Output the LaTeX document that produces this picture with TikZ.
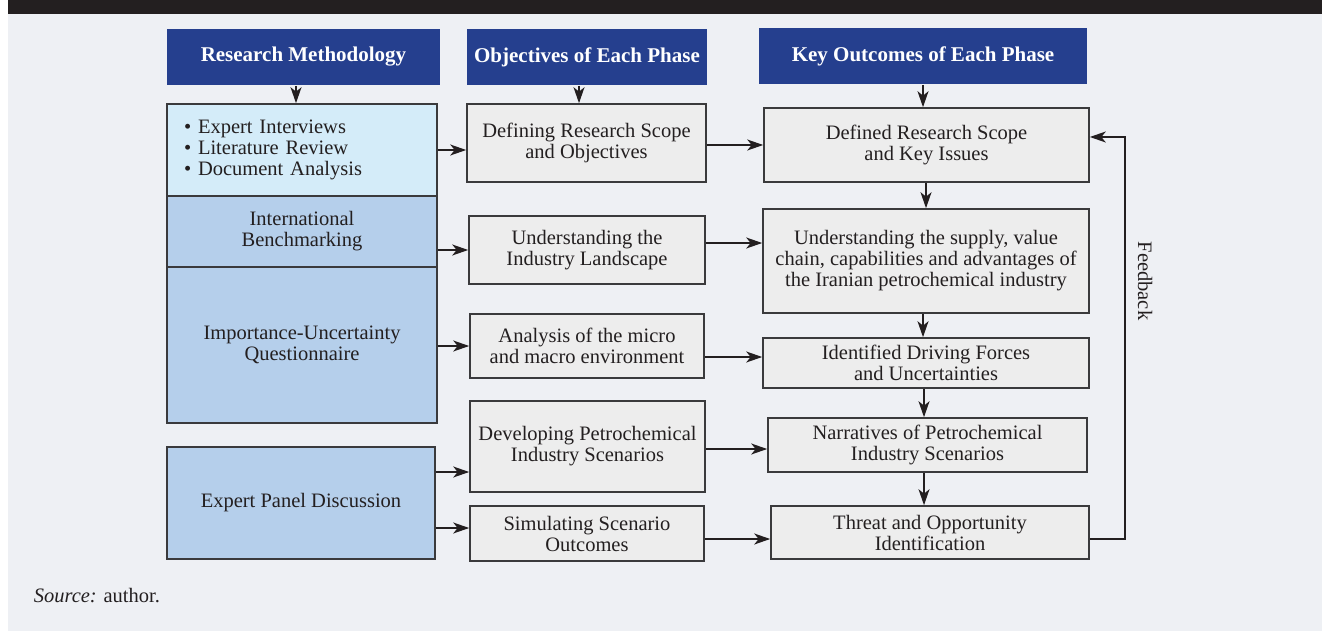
\documentclass[tikz,border=0pt]{standalone}
\usepackage{fontspec}
\setmainfont{Liberation Serif}
\usetikzlibrary{arrows.meta,positioning,calc}

\definecolor{barblack}{HTML}{231F20}
\definecolor{pagegrey}{HTML}{EEF0F4}
\definecolor{headblue}{HTML}{253F8E}
\definecolor{paleblue}{HTML}{D4ECF9}
\definecolor{midblue}{HTML}{B5CFEB}
\definecolor{boxgrey}{HTML}{EDEDED}
\definecolor{edgegrey}{HTML}{3A3A3C}

\begin{document}
\begin{tikzpicture}[x=1pt,y=-1pt,->,>={Stealth[length=16pt,width=11pt,inset=4.5pt]},
  line width=1.6pt,color=barblack,
  every node/.style={align=center,inner sep=2pt,font=\fontsize{20.5}{21}\selectfont},
  head/.style={fill=headblue,text=white,minimum height=56pt,font=\fontsize{21}{22}\selectfont\bfseries},
  method/.style={draw=edgegrey,fill=midblue,minimum width=270pt},
  phase/.style={draw=edgegrey,fill=boxgrey}]

  \useasboundingbox (0,0) rectangle (1322,631);
  \fill[white,-] (0,0) rectangle (1322,631);
  \fill[pagegrey,-] (8,14) rectangle (1322,631);
  \fill[barblack,-] (8,0) rectangle (1322,14);

  % column heads
  \node[head,minimum width=273pt] (h1) at (303.5,57) {Research Methodology};
  \node[head,minimum width=240pt] (h2) at (587,57) {Objectives of Each Phase};
  \node[head,minimum width=328pt] (h3) at (923,56) {Key Outcomes of Each Phase};

  % methods
  \node[method,fill=paleblue,minimum height=92pt,text width=236pt,inner xsep=17pt,align=left]
    (m1) at (302,150) {• Expert Interviews\\• Literature Review\\• Document Analysis};
  \node[method,minimum height=71pt] (m2) at (302,231.5) {International\\Benchmarking};
  \node[method,minimum height=156pt] (m3) at (302,345) {Importance-Uncertainty\\Questionnaire};
  \node[method,minimum width=268pt,minimum height=112pt] (m4) at (301,503) {Expert Panel Discussion};

  % objectives
  \node[phase,minimum width=239pt,minimum height=78pt] (p1) at (586.5,143) {Defining Research Scope\\and Objectives};
  \node[phase,minimum width=236pt,minimum height=68pt] (p2) at (587,250) {Understanding the\\Industry Landscape};
  \node[phase,minimum width=234pt,minimum height=64pt] (p3) at (587,346) {Analysis of the micro\\and macro environment};
  \node[phase,minimum width=235pt,minimum height=91pt] (p4) at (587.5,446.5) {Developing Petrochemical\\Industry Scenarios};
  \node[phase,minimum width=234pt,minimum height=55pt] (p5) at (587,533.5) {Simulating Scenario\\Outcomes};

  % outcomes
  \node[phase,minimum width=325pt,minimum height=74pt] (k1) at (926.5,145) {Defined Research Scope\\and Key Issues};
  \node[phase,minimum width=326pt,minimum height=104pt] (k2) at (926,261) {Understanding the supply, value\\chain, capabilities and advantages of\\the Iranian petrochemical industry};
  \node[phase,minimum width=326pt,minimum height=50pt] (k3) at (926,363) {Identified Driving Forces\\and Uncertainties};
  \node[phase,minimum width=319pt,minimum height=54pt] (k4) at (927.5,445) {Narratives of Petrochemical\\Industry Scenarios};
  \node[phase,minimum width=318pt,minimum height=53pt] (k5) at (930,532.5) {Threat and Opportunity\\Identification};

  \node[rotate=-90] (fb) at (1145,281) {Feedback};
  \node[anchor=base west,inner sep=0pt] (src) at (33,602) {\textit{Source:} author.};

  % heads to first row
  \coordinate (t1) at ([xshift=-7.5pt]h1.south);
  \coordinate (t2) at ([xshift=-8pt]h2.south);
  \draw (t1) -- (t1 |- m1.north);
  \draw (t2) -- (t2 |- p1.north);
  \draw (h3.south) -- (h3.south |- k1.north);

  % methods to objectives
  \coordinate (a4) at ([yshift=-25.5pt]p4.west);
  \coordinate (a5) at ([yshift=5.5pt]p5.west);
  \draw (m1.east) -- (m1.east -| p1.west);
  \draw (m2.east |- p2.west) -- (p2.west);
  \draw (m3.east |- p3.west) -- (p3.west);
  \draw (m4.east |- a4) -- (a4);
  \draw (m4.east |- a5) -- (a5);

  % objectives to outcomes
  \coordinate (b2) at ([yshift=18pt]k2.west);
  \coordinate (b3) at ([yshift=6pt]k3.west);
  \coordinate (b4) at ([yshift=-4pt]k4.west);
  \coordinate (b5) at ([yshift=-6.5pt]k5.west);
  \draw (p1.east |- k1.west) -- (k1.west);
  \draw (p2.east |- b2) -- (b2);
  \draw (p3.east |- b3) -- (b3);
  \draw (p4.east |- b4) -- (b4);
  \draw (p5.east |- b5) -- (b5);

  % outcome chain and feedback
  \coordinate (c1) at ([xshift=-0.5pt]k1.south);
  \coordinate (c2) at ([xshift=-3pt]k2.south);
  \coordinate (c3) at ([xshift=-2pt]k3.south);
  \coordinate (c4) at ([xshift=-3.5pt]k4.south);
  \draw (c1) -- (c1 |- k2.north);
  \draw (c2) -- (c2 |- k3.north);
  \draw (c3) -- (c3 |- k4.north);
  \draw (c4) -- (c4 |- k5.north);
  \draw ([yshift=-6.5pt]k5.east) -- ++(35,0) |- ([yshift=8pt]k1.east);

\end{tikzpicture}
\end{document}
